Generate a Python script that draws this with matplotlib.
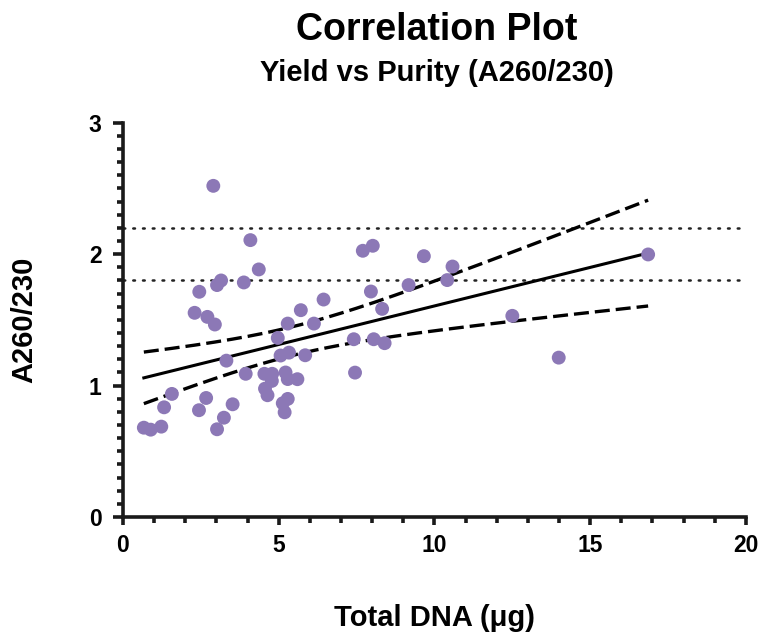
import numpy as np
import matplotlib.pyplot as plt
from matplotlib.ticker import MultipleLocator

plt.rcParams["font.family"] = ["Liberation Sans", "DejaVu Sans"]
plt.rcParams["font.weight"] = "bold"

# Total DNA yield (ug) and A260/230 ratio per sample
total_dna = [
    2.90, 4.09, 4.36, 3.15, 3.02, 3.88, 2.45, 6.44, 2.30, 5.71,
    2.71, 2.95, 5.29, 6.13, 4.97, 5.06, 5.33, 5.85, 3.32, 3.94,
    4.54, 4.79, 5.22, 5.29, 5.60, 4.78, 4.56, 4.64, 1.57, 2.67,
    5.29, 5.13, 5.19, 1.32, 3.52, 2.44, 3.24, 0.67, 0.89, 1.23,
    3.02, 7.70, 8.02, 9.66, 10.58, 10.41, 16.86, 9.17, 7.96, 8.32,
    12.50, 7.41, 8.05, 8.40, 7.45, 13.99,
]
a260_230 = [
    2.52, 2.107, 1.884, 1.80, 1.765, 1.785, 1.714, 1.655, 1.554, 1.574,
    1.523, 1.465, 1.472, 1.472, 1.363, 1.229, 1.251, 1.231, 1.19, 1.09,
    1.09, 1.09, 1.10, 1.05, 1.049, 1.036, 0.977, 0.927, 0.937, 0.906,
    0.899, 0.866, 0.797, 0.835, 0.858, 0.813, 0.756, 0.68, 0.665, 0.688,
    0.668, 2.026, 2.064, 1.985, 1.906, 1.803, 1.998, 1.765, 1.716, 1.584,
    1.531, 1.353, 1.353, 1.323, 1.099, 1.213,
]
purity_limits = [1.8, 2.2]

x = np.array(total_dna)
y = np.array(a260_230)

# least-squares fit with 95% confidence band of the mean
n = len(x)
slope, intercept = np.polyfit(x, y, 1)
resid = y - (slope * x + intercept)
s = np.sqrt(np.sum(resid ** 2) / (n - 2))
t_crit = 2.005  # t(0.975, df=54)
xs = np.linspace(x.min(), x.max(), 200)
fit = slope * xs + intercept
se = s * np.sqrt(1 / n + (xs - x.mean()) ** 2 / np.sum((x - x.mean()) ** 2))

fig = plt.figure(figsize=(7.61, 6.36), dpi=100)
ax = fig.add_axes([0.1616, 0.187, 0.8186, 0.620])

for lim in purity_limits:
    ax.axhline(lim, color="#222222", linestyle=(0, (0.7, 3.2)), linewidth=1.8,
               dash_capstyle="round", zorder=1)

ax.scatter(x, y, s=100, color="#8c78b6", edgecolors="none", zorder=3, clip_on=False)
ax.plot(xs, fit, color="black", linewidth=2.2, zorder=2)
ax.plot(xs, fit + t_crit * se, color="black", linewidth=2.4,
        linestyle=(0, (4.5, 1.8)), zorder=2)
ax.plot(xs, fit - t_crit * se, color="black", linewidth=2.4,
        linestyle=(0, (4.5, 1.8)), zorder=2)

ax.set_xlim(0, 20)
ax.set_ylim(0, 3)
ax.xaxis.set_major_locator(MultipleLocator(5))
ax.xaxis.set_minor_locator(MultipleLocator(1))
ax.yaxis.set_major_locator(MultipleLocator(1))
ax.yaxis.set_minor_locator(MultipleLocator(0.1))

for side in ["top", "right"]:
    ax.spines[side].set_visible(False)
for side in ["left", "bottom"]:
    ax.spines[side].set_linewidth(2.6)
    ax.spines[side].set_color("#1a1a1a")

ax.tick_params(which="both", width=2.6, color="#1a1a1a")
ax.tick_params(axis="y", which="major", length=7.5, labelsize=16.5, pad=8)
ax.tick_params(axis="y", which="minor", length=4)
ax.tick_params(axis="x", which="major", length=6, labelsize=16.5, pad=6)
ax.tick_params(axis="x", which="minor", length=4)

ax.set_xlabel("Total DNA (μg)", fontsize=21, fontweight="bold", labelpad=34)
ax.set_ylabel("A260/230", fontsize=21, fontweight="bold", labelpad=36)

fig.text(0.574, 0.953, "Correlation Plot", ha="center", va="center",
         fontsize=27, fontweight="bold")
fig.text(0.574, 0.886, "Yield vs Purity (A260/230)", ha="center", va="center",
         fontsize=21, fontweight="bold")

fig.savefig("out.png", dpi=100)
